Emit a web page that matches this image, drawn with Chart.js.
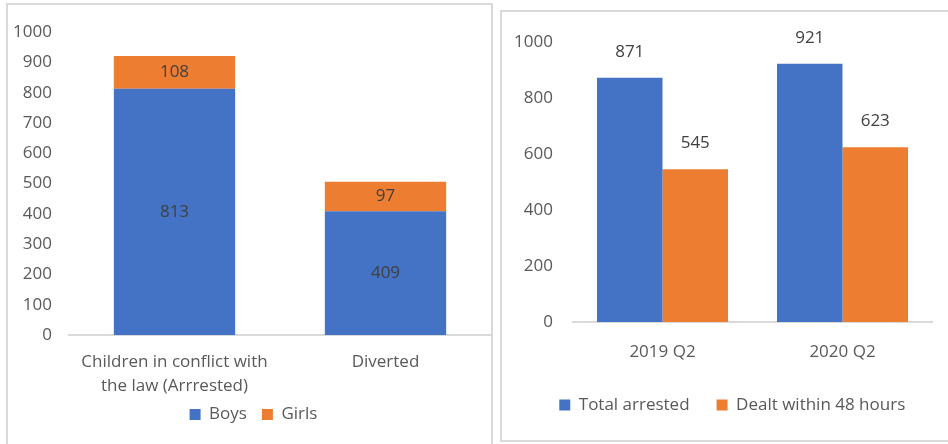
<!DOCTYPE html>
<html>
<head>
<meta charset="utf-8">
<script src="https://cdn.jsdelivr.net/npm/chart.js@4"></script>
<style>
    html, body { margin: 0; padding: 0; background: #fff; overflow: hidden; }
    body { width: 948px; height: 444px; position: relative; }
    .panel { position: absolute; border: 2px solid #d9d9d9; box-sizing: border-box; }
    #leftPanel { left: 6px; top: 3px; width: 487px; height: 460px; }
    #rightPanel { left: 500px; top: 10px; width: 470px; height: 432px; }
    canvas { position: absolute; }
</style>
</head>
<body>
<div class="panel" id="leftPanel"></div>
<div class="panel" id="rightPanel"></div>
<canvas id="leftChart" style="left:8px; top:5px;" width="484" height="439"></canvas>
<canvas id="rightChart" style="left:502px; top:12px;" width="460" height="429"></canvas>
<script>
const caseTypes = [["Children in conflict with", "the law (Arrrested)"], "Diverted"];
const boys = [813, 409];
const girls = [108, 97];

const quarters = ["2019 Q2", "2020 Q2"];
const totalArrested = [871, 921];
const dealtWithin48 = [545, 623];

const blue = "#4472C4";
const orange = "#ED7D31";
const tickColor = "#595959";
const labelColor = "#404040";
const fontFamily = "'Open Sans', sans-serif";

// draws the value labels, either inside stacked segments or above the bars
const valueLabels = {
    id: "valueLabels",
    afterDatasetsDraw(chart, args, opts) {
        const ctx = chart.ctx;
        ctx.save();
        ctx.font = "17px " + fontFamily;
        ctx.fillStyle = labelColor;
        ctx.textAlign = "center";
        ctx.textBaseline = "middle";
        chart.data.datasets.forEach((ds, i) => {
            chart.getDatasetMeta(i).data.forEach((bar, j) => {
                const y = opts.inside ? (bar.y + bar.base) / 2 : bar.y - 26;
                ctx.fillText(String(ds.data[j]), bar.x, y);
            });
        });
        ctx.restore();
    }
};

// nudges the legend box after layout so it sits where the original one does
const shiftLegend = {
    id: "shiftLegend",
    afterLayout(chart, args, opts) {
        const lg = chart.legend;
        if (!lg) {
            return;
        }
        lg.left += opts.dx || 0;
        lg.right += opts.dx || 0;
        lg.top += opts.dy || 0;
        lg.bottom += opts.dy || 0;
    }
};

Chart.defaults.font.family = fontFamily;
Chart.defaults.font.size = 17;
Chart.defaults.color = tickColor;

const plainNumber = (value) => String(value);

new Chart(document.getElementById("leftChart"), {
    type: "bar",
    data: {
        labels: caseTypes,
        datasets: [
            { label: "Boys", data: boys, backgroundColor: blue },
            { label: "Girls", data: girls, backgroundColor: orange }
        ]
    },
    options: {
        responsive: false,
        animation: false,
        layout: { padding: { top: 25, right: 1, bottom: 4, left: 0 } },
        barPercentage: 0.575,
        categoryPercentage: 1,
        scales: {
            x: {
                stacked: true,
                grid: { display: false, drawTicks: false },
                border: { display: true, color: "#d9d9d9", width: 2 },
                ticks: { padding: 15, color: tickColor, font: { size: 17, lineHeight: 1.4 } },
                afterFit: (scale) => { scale.height = 63; }
            },
            y: {
                stacked: true,
                min: 0,
                max: 1000,
                grid: { display: false, drawTicks: false },
                border: { display: false },
                ticks: { stepSize: 100, padding: 17, color: tickColor, callback: plainNumber },
                afterFit: (scale) => { scale.width = 61; }
            }
        },
        plugins: {
            legend: {
                position: "bottom",
                labels: { boxWidth: 11, boxHeight: 11, padding: 15, color: tickColor }
            },
            tooltip: { enabled: false },
            valueLabels: { inside: true },
            shiftLegend: { dx: 4, dy: -7 }
        }
    },
    plugins: [valueLabels, shiftLegend]
});

new Chart(document.getElementById("rightChart"), {
    type: "bar",
    data: {
        labels: quarters,
        datasets: [
            { label: "Total arrested", data: totalArrested, backgroundColor: blue },
            { label: "Dealt within 48 hours", data: dealtWithin48, backgroundColor: orange }
        ]
    },
    options: {
        responsive: false,
        animation: false,
        layout: { padding: { top: 26, right: 29.5, bottom: 17.5, left: 0 } },
        barPercentage: 1,
        categoryPercentage: 0.728,
        scales: {
            x: {
                grid: { display: false, drawTicks: false },
                border: { display: true, color: "#d9d9d9", width: 2 },
                ticks: { padding: 18, color: tickColor, font: { size: 17, lineHeight: 1.4 } },
                afterFit: (scale) => { scale.height = 47.5; }
            },
            y: {
                min: 0,
                max: 1000,
                grid: { display: false, drawTicks: false },
                border: { display: false },
                ticks: { stepSize: 200, padding: 19.5, color: tickColor, callback: plainNumber },
                afterFit: (scale) => { scale.width = 70.5; }
            }
        },
        plugins: {
            legend: {
                position: "bottom",
                labels: { boxWidth: 11, boxHeight: 11, padding: 27, color: tickColor }
            },
            tooltip: { enabled: false },
            valueLabels: { inside: false },
            shiftLegend: { dx: 15, dy: 0 }
        }
    },
    plugins: [valueLabels, shiftLegend]
});
</script>
</body>
</html>
